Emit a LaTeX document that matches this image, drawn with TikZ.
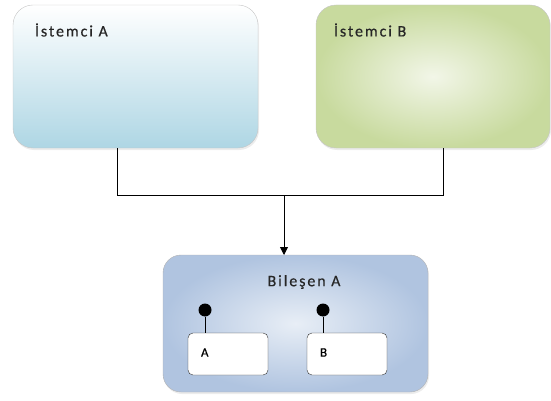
\documentclass[tikz,border=0pt]{standalone}
\usepackage{fontspec}
\setmainfont{Carlito}
\newfontfamily\boxfont[LetterSpace=12,FakeBold=0.4]{Carlito}
\usepackage{tikz}
\usetikzlibrary{shapes,arrows.meta,positioning,calc,shadows}

\definecolor{clientblue}{RGB}{174,214,228}
\definecolor{clientgreen}{RGB}{200,218,158}
\definecolor{clientgreenlt}{RGB}{242,246,232}
\definecolor{compblue}{RGB}{176,196,224}
\definecolor{compbluelt}{RGB}{232,238,246}

\begin{document}
\begin{tikzpicture}[
    x=1pt, y=-1pt,
    outer sep=0pt,
    client/.style={draw=gray!45, rounded corners=20pt, minimum width=245pt, minimum height=143pt,
        drop shadow={opacity=0.15, shadow xshift=1pt, shadow yshift=-2pt}},
    comp/.style={draw=gray!60, rounded corners=18pt, minimum width=265pt, minimum height=137pt,
        shading=radial, inner color=compbluelt, outer color=compblue,
        drop shadow={opacity=0.15, shadow xshift=1pt, shadow yshift=-2pt}},
    title/.style={font=\boxfont\fontsize{16}{18}\selectfont, text=black!85, inner sep=0pt},
    part/.style={draw=black!80, fill=white, rounded corners=5pt, minimum width=80pt, minimum height=42pt,
        text width=54pt, inner xsep=13pt, align=left, font=\boxfont\fontsize{13}{15}\selectfont},
    port/.style={circle, fill=black, minimum size=13pt, inner sep=0pt},
    wire/.style={draw=black, line width=0.9pt}
]
    \useasboundingbox (0,0) rectangle (551,401);

    % clients
    \node [client, top color=white, bottom color=clientblue] (clientA) at (135.5,76.5) {};
    \node [client, shading=radial, inner color=clientgreenlt, outer color=clientgreen, minimum width=234pt] (clientB) at (433,76.5) {};
    \node [title, anchor=west] (titleA) at ($(clientA.north west)+(22,25)$) {İstemci A};
    \node [title, anchor=west] (titleB) at ($(clientB.north west)+(18,25)$) {İstemci B};

    % component
    \node [comp] (compA) at (295.5,323.5) {};
    \node [title] (compTitle) at (304,282) {Bileşen A};

    % parts and ports
    \node [part] (partA) at (228,354) {\raisebox{3pt}{A}};
    \node [part] (partB) at (347,354) {\raisebox{3pt}{B}};
    \node [port] (portA) at (205,310) {};
    \node [port] (portB) at (323,310) {};
    \draw [wire] (portA) -- (portA |- partA.north);
    \draw [wire] (portB) -- (portB |- partB.north);

    % connectors
    \coordinate (joinA) at (117,195);
    \coordinate (joinB) at (443,195);
    \coordinate (joinM) at (284,195);
    \draw [wire] (joinA |- clientA.south) -- (joinA) -- (joinB) -- (joinB |- clientB.south);
    \draw [wire, -{Triangle[length=8pt, width=8pt]}] (joinM) -- (joinM |- compA.north);
\end{tikzpicture}
\end{document}
